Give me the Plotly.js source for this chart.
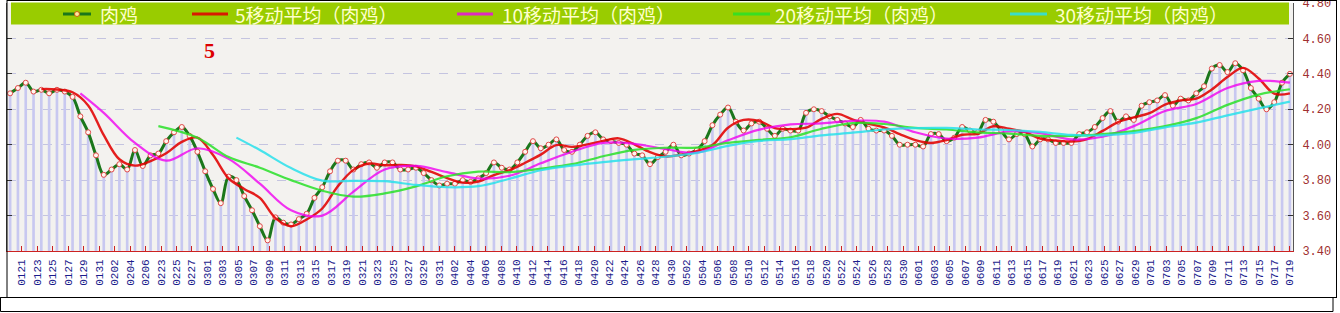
<!DOCTYPE html>
<html><head><meta charset="utf-8">
<script src="https://cdn.plot.ly/plotly-3.0.1.min.js"></script>
<style>html,body{margin:0;padding:0;background:#fff;} #chart{width:1340px;height:313px;}</style>
</head><body><div id="chart"></div>
<script>
// ---- categories (dates) ----
const dates = [
 "0121","0122","0123","0124","0125","0126","0127","0128","0129","0130","0131",
 "0201","0202","0203","0204","0205","0206","0222","0223","0224","0225","0226","0227","0228",
 "0301","0302","0303","0304","0305","0306","0307","0308","0309","0310","0311","0312","0313","0314","0315","0316","0317","0318","0319","0320","0321","0322","0323","0324","0325","0326","0327","0328","0329","0330","0331",
 "0401","0402","0403","0404","0405","0406","0407","0408","0409","0410","0411","0412","0413","0414","0415","0416","0417","0418","0419","0420","0421","0422","0423","0424","0425","0426","0427","0428","0429","0430",
 "0501","0502","0503","0504","0505","0506","0507","0508","0509","0510","0511","0512","0513","0514","0515","0516","0517","0518","0519","0520","0521","0522","0523","0524","0525","0526","0527","0528","0529","0530","0531",
 "0601","0602","0603","0604","0605","0606","0607","0608","0609","0610","0611","0612","0613","0614","0615","0616","0617","0618","0619","0620","0621","0622","0623","0624","0625","0626","0627","0628","0629","0630",
 "0701","0702","0703","0704","0705","0706","0707","0708","0709","0710","0711","0712","0713","0714","0715","0716","0717","0718","0719"
];
// ---- tick labels ----
const tickLabels = [
 "0121","0123","0125","0127","0129","0131","0202","0204","0206","0223","0225","0227",
 "0301","0303","0305","0307","0309","0311","0313","0315","0317","0319","0321","0323","0325","0327","0329","0331",
 "0402","0404","0406","0408","0410","0412","0414","0416","0418","0420","0422","0424","0426","0428","0430",
 "0502","0504","0506","0508","0510","0512","0514","0516","0518","0520","0522","0524","0526","0528","0530",
 "0601","0603","0605","0607","0609","0611","0613","0615","0617","0619","0621","0623","0625","0627","0629",
 "0701","0703","0705","0707","0709","0711","0713","0715","0717","0719"
];
const yTickVals = [3.4, 3.6, 3.8, 4.0, 4.2, 4.4, 4.6, 4.8];
// ---- series names ----
const seriesNames = ["肉鸡","5移动平均（肉鸡）","10移动平均（肉鸡）","20移动平均（肉鸡）","30移动平均（肉鸡）"];
// ---- 肉鸡 price ----
const price = [
 4.29,4.32,4.35,4.30,4.31,4.29,4.31,4.30,4.27,4.16,
 4.07,3.94,3.83,3.86,3.89,3.86,3.97,3.88,3.94,3.95,
 4.02,4.07,4.10,4.05,3.96,3.85,3.75,3.67,3.82,3.80,
 3.71,3.63,3.54,3.46,3.59,3.56,3.55,3.58,3.61,3.70,
 3.76,3.85,3.91,3.91,3.86,3.89,3.90,3.87,3.90,3.90,
 3.86,3.86,3.87,3.84,3.80,3.77,3.78,3.78,3.80,3.79,
 3.81,3.84,3.90,3.87,3.86,3.90,3.96,4.02,3.98,4.00,
 4.03,3.97,3.96,4.00,4.05,4.07,4.03,4.02,4.01,4.00,
 3.95,3.94,3.89,3.93,3.96,4.00,3.94,3.95,3.97,4.02,
 4.11,4.17,4.21,4.13,4.08,4.12,4.13,4.09,4.05,4.09,
 4.08,4.08,4.18,4.20,4.19,4.16,4.14,4.12,4.10,4.14,
 4.09,4.08,4.08,4.05,4.00,4.00,4.00,3.99,4.06,4.06,
 4.02,4.04,4.10,4.08,4.07,4.14,4.13,4.08,4.03,4.06,
 4.06,3.99,4.03,4.03,4.01,4.01,4.01,4.06,4.07,4.10,
 4.15,4.19,4.13,4.16,4.14,4.22,4.24,4.25,4.28,4.22,
 4.26,4.25,4.29,4.33,4.43,4.45,4.41,4.46,4.42,4.32,
 4.26,4.20,4.24,4.35,4.40
];
const ma5Idx = [4,6,8,10,12,14,16,18,20,22,24,26,28,30,32,34,36,38,40,42,44,46,48,50,52,54,56,58,60,62,64,66,68,70,72,74,76,78,80,82,84,86,88,90,92,94,96,98,100,102,104,106,108,110,112,114,116,118,120,122,124,126,128,130,132,134,136,138,140,142,144,146,148,150,152,154,156,158,160,162,164];
const ma5 = [
 4.314,4.312,4.296,4.222,4.054,3.918,3.882,3.908,3.952,4.016,
 4.040,3.942,3.810,3.750,3.700,3.586,3.540,3.578,3.640,3.766,
 3.858,3.894,3.884,3.886,3.878,3.846,3.812,3.786,3.792,3.828,
 3.856,3.898,3.944,3.998,3.988,4.002,4.022,4.036,4.002,3.958,
 3.934,3.944,3.964,3.998,4.096,4.140,4.134,4.094,4.088,4.096,
 4.146,4.174,4.142,4.118,4.098,4.060,4.026,4.010,4.026,4.056,
 4.062,4.104,4.090,4.072,4.034,4.024,4.018,4.032,4.078,4.128,
 4.154,4.178,4.226,4.250,4.260,4.312,4.382,4.434,4.374,4.288,
 4.290
];
const ma10Idx = [9,12,16,20,24,28,32,36,40,44,48,52,56,60,64,68,72,76,80,84,88,92,96,100,104,108,112,116,120,124,128,132,136,140,144,148,152,156,160,164];
const ma10 = [
 4.29,4.18,4.01,3.91,3.98,3.92,3.78,3.63,3.60,3.735,
 3.86,3.88,3.845,3.81,3.825,3.895,3.96,4.01,4.005,3.975,
 3.955,4.025,4.085,4.115,4.12,4.135,4.13,4.07,4.035,4.04,
 4.075,4.065,4.03,4.045,4.105,4.19,4.23,4.32,4.36,4.35
];
const ma20Idx = [19,24,28,32,36,40,44,48,52,56,60,64,68,72,76,80,84,88,92,96,100,104,108,112,116,120,124,128,132,136,140,144,148,152,156,160,164];
const ma20 = [
 4.105,4.04,3.93,3.87,3.80,3.74,3.707,3.725,3.765,3.822,
 3.848,3.845,3.865,3.89,3.935,3.971,3.983,3.984,4.01,4.027,
 4.042,4.09,4.122,4.117,4.095,4.086,4.07,4.063,4.05,4.05,
 4.06,4.077,4.105,4.15,4.225,4.283,4.313
];
const ma30Idx = [29,32,36,40,44,48,52,56,60,64,68,72,76,80,84,88,92,96,100,104,108,112,116,120,124,128,132,136,140,144,148,152,156,160,164];
const ma30 = [
 4.04,3.97,3.868,3.797,3.796,3.794,3.773,3.76,3.766,3.808,
 3.856,3.882,3.902,3.918,3.932,3.954,3.993,4.021,4.031,4.053,
 4.068,4.086,4.094,4.095,4.086,4.083,4.072,4.055,4.053,4.067,
 4.098,4.125,4.166,4.205,4.243
];

// ---- styling ----
const W = 1340, H = 313, L = 7, R = 47, T = 3, B = 62;
const pw = W - L - R, ph = H - T - B;
const px = x => (x - L) / pw;
const py = y => (H - B - y) / ph;

const colors = ["#1b771b","rgba(225,0,0,0.88)","rgba(240,0,240,0.8)","rgba(40,225,40,0.85)","rgba(40,225,235,0.85)"];
const idx = price.map((_, i) => i);

const traces = [
 {type:"bar", x: idx, y: price, width: 0.34, marker:{color:"#c8c8f0"}, hoverinfo:"skip", name:"bars"},
 {type:"scatter", mode:"lines+markers", name: seriesNames[0], x: idx, y: price,
  line:{color:colors[0], width:3, shape:"spline", smoothing:1},
  marker:{symbol:"circle", size:5, color:"#fff6ee", line:{color:"#e04848", width:1}}},
 {type:"scatter", mode:"lines", name: seriesNames[1], x: ma5Idx, y: ma5, line:{color:colors[1], width:2.4, shape:"spline", smoothing:1}},
 {type:"scatter", mode:"lines", name: seriesNames[2], x: ma10Idx, y: ma10, line:{color:colors[2], width:2.2, shape:"spline", smoothing:1}},
 {type:"scatter", mode:"lines", name: seriesNames[3], x: ma20Idx, y: ma20, line:{color:colors[3], width:2.2, shape:"spline", smoothing:1}},
 {type:"scatter", mode:"lines", name: seriesNames[4], x: ma30Idx, y: ma30, line:{color:colors[4], width:2.2, shape:"spline", smoothing:1}}
];

const tickvals = tickLabels.map((_, k) => 1.5 + k * (162.5 / (tickLabels.length - 1)));

// legend layout (pixel positions)
const legSym = [[63,91],[192,228],[457,493],[733,770],[1010,1047]];
const legText = [98,233,500,773,1053];
const legY = 14;

const shapes = [
 {type:"rect", xref:"paper", yref:"paper", x0:px(11), x1:px(1289), y0:py(24.5), y1:py(2.6), fillcolor:"#99cc00", line:{width:0}, layer:"above"}
];
legSym.forEach((s, k) => {
  shapes.push({type:"line", xref:"paper", yref:"paper", x0:px(s[0]), x1:px(s[1]), y0:py(legY), y1:py(legY),
    line:{color:colors[k], width:3}, layer:"above"});
});
shapes.push({type:"circle", xref:"paper", yref:"paper", x0:px(74.5), x1:px(79.5), y0:py(legY+2.5), y1:py(legY-2.5),
  fillcolor:"#ffe8a0", line:{color:"#d06010", width:1}, layer:"above"});
const blk = {color:"#000", width:1};
shapes.push(
 {type:"line", xref:"paper", yref:"paper", x0:px(7), x1:px(7), y0:py(0), y1:py(298), line:blk, layer:"above"},
 {type:"line", xref:"paper", yref:"paper", x0:px(7), x1:px(1337), y0:py(0.5), y1:py(0.5), line:blk, layer:"above"},
 {type:"line", xref:"paper", yref:"paper", x0:px(1336.5), x1:px(1336.5), y0:py(0), y1:py(298), line:blk, layer:"above"},
 {type:"line", xref:"paper", yref:"paper", x0:px(0), x1:px(1337), y0:py(297.5), y1:py(297.5), line:blk, layer:"above"},
 {type:"rect", xref:"paper", yref:"paper", x0:px(0.5), x1:px(1333), y0:py(297.5), y1:py(311.5), line:blk, fillcolor:"#fff", layer:"above"}
);

const annotations = seriesNames.map((n, k) => ({
  xref:"paper", yref:"paper", x:px(legText[k]), y:py(legY + 1), xanchor:"left", yanchor:"middle",
  text:n, showarrow:false, font:{family:"Noto Sans CJK SC", size:19, color:"#ffffcc"}
}));
annotations.push({xref:"paper", yref:"paper", x:px(209), y:py(50), xanchor:"center", yanchor:"middle",
  text:"<b>5</b>", showarrow:false, font:{family:"Liberation Serif", size:22, color:"#dd0000"}});

const layout = {
  width:W, height:H, margin:{l:L, r:R, t:T, b:B, pad:0},
  paper_bgcolor:"#ffffff", plot_bgcolor:"#f3f2ef",
  showlegend:false, hovermode:false,
  xaxis:{range:[-0.4,164.4], tickmode:"array", tickvals:tickvals, ticktext:tickLabels, tickangle:-90,
    ticks:"inside", ticklen:5, tickcolor:"#cc2222", showline:true, linecolor:"#cc2222", linewidth:1,
    showgrid:false, zeroline:false, ticklabelstandoff:3,
    tickfont:{family:"Liberation Mono, DejaVu Sans Mono, monospace", size:11, color:"#1c1c8c"}},
  yaxis:{side:"right", range:[3.4,4.8], tickmode:"array", tickvals:yTickVals,
    ticktext:yTickVals.map(v => v.toFixed(2)), ticklabeloverflow:"allow",
    showgrid:true, gridcolor:"#c4c4e0", griddash:"dash", gridwidth:1, zeroline:false,
    showline:true, linecolor:"#555", mirror:"ticks", ticks:"inside", ticklen:5, tickcolor:"#333",
    ticklabelstandoff:6,
    tickfont:{family:"Liberation Mono, DejaVu Sans Mono, monospace", size:12, color:"#a03030"}},
  shapes:shapes, annotations:annotations
};

Plotly.newPlot("chart", traces, layout, {staticPlot:true, displayModeBar:false});
</script></body></html>
